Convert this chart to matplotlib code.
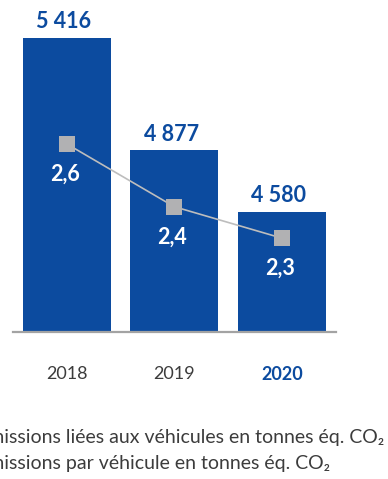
import matplotlib
matplotlib.use("Agg")
import matplotlib.pyplot as plt

years = ["2018", "2019", "2020"]
emissions_total = [5416, 4877, 4580]
emissions_per_vehicle = [2.6, 2.4, 2.3]
total_labels = ["5 416", "4 877", "4 580"]
per_vehicle_labels = ["2,6", "2,4", "2,3"]
legend_lines = ["Émissions liées aux véhicules en tonnes éq. CO\u2082",
                "Émissions par véhicule en tonnes éq. CO\u2082"]

BLUE = "#0c4b9f"
GREY_MARK = "#b1b1b3"
GREY_LINE = "#bdbdbd"
TEXT = "#3c3c3c"
FONT = ["Lato", "DejaVu Sans"]
plt.rcParams["font.family"] = FONT

W, H = 388, 479
fig = plt.figure(figsize=(W / 100, H / 100), dpi=100)
base_y = 332.3
ax = fig.add_axes([13 / W, (H - base_y) / H, 322.5 / W, base_y / H])
x = list(range(len(years)))
ax.bar(x, emissions_total, width=0.819, color=BLUE, zorder=2)
ax.set_xlim(-0.5, 2.5)
ax.set_ylim(4000, 4000 + base_y / 0.2078)
for s in ["top", "left", "right"]:
    ax.spines[s].set_visible(False)
ax.spines["bottom"].set_color("#a3a3a3")
ax.spines["bottom"].set_linewidth(1.6)
ax.set_yticks([])
ax.set_xticks(x)
ax.set_xticklabels(years, fontsize=13, color=TEXT, fontweight="normal")
ax.tick_params(axis="x", length=0, pad=24)
lbls = ax.get_xticklabels()
lbls[-1].set_fontweight("bold")
lbls[-1].set_color(BLUE)

for xi, v, t in zip(x, emissions_total, total_labels):
    ax.annotate(t, (xi, v), xytext=(-2, 4), textcoords="offset points",
                ha="center", va="bottom", fontsize=15.5, fontweight="bold",
                color=BLUE)

ax2 = ax.twinx()
ax2.set_ylim(2.0, 2.0 + base_y / 314)
ax2.plot(x, emissions_per_vehicle, color=GREY_LINE, lw=1.2, marker="s",
         markersize=12.2, markerfacecolor=GREY_MARK, markeredgewidth=0, zorder=3)
for s in ax2.spines.values():
    s.set_visible(False)
ax2.set_yticks([])
for xi, v, t in zip(x, emissions_per_vehicle, per_vehicle_labels):
    ax2.annotate(t, (xi, v), xytext=(-1.5, -22), textcoords="offset points",
                 ha="center", va="center", fontsize=15.5, fontweight="bold",
                 color="white")

t1 = fig.text(384 / W, 1 - 443 / H, legend_lines[0], ha="right", va="baseline",
              fontsize=14, color=TEXT, fontweight="normal")
fig.canvas.draw()
bb = t1.get_window_extent()
t2 = fig.text(bb.x0 / W, 1 - 469 / H, legend_lines[1], ha="left", va="baseline",
              fontsize=14, color=TEXT, fontweight="normal")

fig.savefig("out.png", dpi=100)
